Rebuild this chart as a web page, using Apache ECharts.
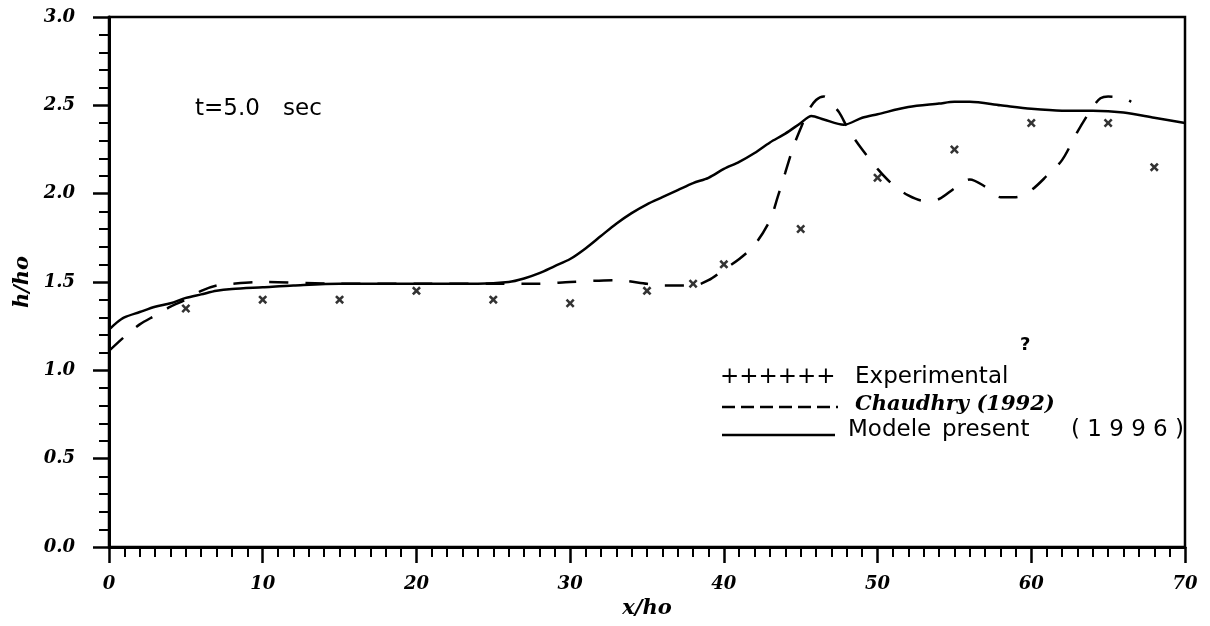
<!DOCTYPE html>
<html>
<head>
<meta charset="utf-8">
<script src="https://cdn.jsdelivr.net/npm/echarts@6/dist/echarts.min.js"></script>
<style>
  html, body { margin: 0; padding: 0; background: #fff; }
  #chart { width: 1210px; height: 626px; }
</style>
</head>
<body>
<div id="chart"></div>
<script>
// ---- Data ----
const expX = [5, 10, 15, 20, 25, 30, 35, 38, 40, 45, 50, 55, 60, 65, 68];
const expY = [1.35, 1.40, 1.40, 1.45, 1.40, 1.38, 1.45, 1.49, 1.60, 1.80, 2.09, 2.25, 2.40, 2.40, 2.15];

const chaudhryX = [0, 1, 2, 3, 4, 5, 6, 7, 8, 10, 15, 20, 25, 28, 30, 33, 35, 36, 37, 38, 39, 40, 41, 42, 43, 43.5, 44, 44.5, 45, 45.5, 46, 46.5, 47, 47.5, 48, 48.5, 49, 50, 51, 52, 53, 54, 55, 56, 57, 58, 59, 60, 61, 62, 63, 64, 64.5, 65, 66, 66.5];
const chaudhryY = [1.11, 1.19, 1.26, 1.31, 1.36, 1.40, 1.45, 1.48, 1.49, 1.50, 1.49, 1.49, 1.49, 1.49, 1.50, 1.51, 1.49, 1.48, 1.48, 1.48, 1.51, 1.57, 1.63, 1.71, 1.85, 1.98, 2.12, 2.26, 2.37, 2.47, 2.53, 2.55, 2.51, 2.46, 2.38, 2.31, 2.25, 2.14, 2.05, 1.99, 1.96, 1.97, 2.03, 2.08, 2.04, 1.98, 1.98, 2.02, 2.10, 2.19, 2.35, 2.49, 2.54, 2.55, 2.54, 2.52];

const modelX = [0, 0.5, 1, 2, 3, 4, 5, 6, 7, 8, 10, 12, 15, 20, 24, 26, 27, 28, 29, 30, 31, 32, 33, 34, 35, 36, 37, 38, 39, 40, 41, 42, 43, 44, 45, 45.7, 46.5, 47.8, 49, 50, 52, 54, 55, 56, 58, 60, 62, 64, 66, 68, 70];
const modelY = [1.23, 1.27, 1.30, 1.33, 1.36, 1.38, 1.41, 1.43, 1.45, 1.46, 1.47, 1.48, 1.49, 1.49, 1.49, 1.50, 1.52, 1.55, 1.59, 1.63, 1.69, 1.76, 1.83, 1.89, 1.94, 1.98, 2.02, 2.06, 2.09, 2.14, 2.18, 2.23, 2.29, 2.34, 2.40, 2.44, 2.42, 2.39, 2.43, 2.45, 2.49, 2.51, 2.52, 2.52, 2.50, 2.48, 2.47, 2.47, 2.46, 2.43, 2.40];

const xTicks = [0, 10, 20, 30, 40, 50, 60, 70];
const yTicks = ['0.0', '0.5', '1.0', '1.5', '2.0', '2.5', '3.0'];

const zip = (xs, ys) => xs.map((x, i) => [x, ys[i]]);

const serifLabel = {
  fontFamily: 'DejaVu Serif',
  fontStyle: 'italic',
  fontWeight: 'bold',
  color: '#000'
};

const crossPath = 'path://M0,2 L2,0 L5,3 L8,0 L10,2 L7,5 L10,8 L8,10 L5,7 L2,10 L0,8 L3,5 Z';

const chart = echarts.init(document.getElementById('chart'), null, { renderer: 'canvas' });

chart.setOption({
  backgroundColor: '#ffffff',
  animation: false,
  grid: {
    left: 109, right: 25, top: 17, bottom: 79,
    containLabel: false,
    outerBoundsMode: 'none',
    show: true, borderColor: '#000', borderWidth: 2.5, backgroundColor: 'transparent'
  },
  xAxis: {
    type: 'value',
    min: 0, max: 70, interval: 10,
    name: 'x/ho',
    nameLocation: 'middle',
    nameGap: 51,
    nameTextStyle: Object.assign({ fontSize: 21 }, serifLabel),
    axisLine: { show: true, onZero: false, lineStyle: { color: '#000', width: 3 } },
    axisTick: { show: true, inside: false, length: 16, lineStyle: { color: '#000', width: 2.5 } },
    minorTick: { show: true, splitNumber: 10, length: 10, lineStyle: { color: '#000', width: 2 } },
    splitLine: { show: false },
    axisLabel: Object.assign({ fontSize: 18, margin: 28, formatter: v => String(xTicks[Math.round(v / 10)]) }, serifLabel)
  },
  yAxis: {
    type: 'value',
    min: 0, max: 3, interval: 0.5,
    name: 'h/ho',
    nameLocation: 'middle',
    nameGap: 76,
    nameRotate: 90,
    nameTextStyle: Object.assign({ fontSize: 21 }, serifLabel),
    axisLine: { show: true, onZero: false, lineStyle: { color: '#000', width: 3 } },
    axisTick: { show: true, inside: false, length: 16, lineStyle: { color: '#000', width: 2.5 } },
    minorTick: { show: true, splitNumber: 5, length: 10, lineStyle: { color: '#000', width: 2 } },
    splitLine: { show: false },
    axisLabel: Object.assign({ fontSize: 18, margin: 34, formatter: v => yTicks[Math.round(v * 2)] }, serifLabel)
  },
  series: [
    {
      name: 'Modele present (1996)',
      type: 'line',
      data: zip(modelX, modelY),
      smooth: 0.3,
      showSymbol: false,
      lineStyle: { color: '#000', width: 2.5 },
      z: 3
    },
    {
      name: 'Chaudhry (1992)',
      type: 'line',
      data: zip(chaudhryX, chaudhryY),
      smooth: 0.3,
      showSymbol: false,
      lineStyle: { color: '#000', width: 2.5, type: [19, 17] },
      z: 3
    },
    {
      name: 'Experimental',
      type: 'scatter',
      data: zip(expX, expY),
      symbol: crossPath,
      symbolSize: 9,
      itemStyle: { color: '#000' },
      z: 4
    }
  ],
  graphic: [
    { type: 'text', left: 195, top: 98, style: { text: 't=5.0', font: '23px "DejaVu Sans"', fill: '#000' } },
    { type: 'text', left: 283, top: 98, style: { text: 'sec', font: '23px "DejaVu Sans"', fill: '#000' } },
    // legend
    { type: 'text', left: 720, top: 366, style: { text: '++++++', font: '23px "DejaVu Sans"', fill: '#000' } },
    { type: 'text', left: 855, top: 366, style: { text: 'Experimental', font: '23px "DejaVu Sans"', fill: '#000' } },
    { type: 'line', shape: { x1: 722, y1: 407, x2: 838, y2: 407 }, style: { stroke: '#000', lineWidth: 2.5, lineDash: [13, 6] } },
    { type: 'text', left: 855, top: 394, style: { text: 'Chaudhry (1992)', font: 'italic bold 21px "DejaVu Serif"', fill: '#000' } },
    { type: 'line', shape: { x1: 722, y1: 435, x2: 835, y2: 435 }, style: { stroke: '#000', lineWidth: 2.5 } },
    { type: 'text', left: 848, top: 419, style: { text: 'Modele', font: '23px "DejaVu Sans"', fill: '#000' } },
    { type: 'text', left: 942, top: 419, style: { text: 'present', font: '23px "DejaVu Sans"', fill: '#000' } },
    { type: 'text', left: 1071, top: 419, style: { text: '( 1 9 9 6 )', font: '23px "DejaVu Sans"', fill: '#000' } },
    { type: 'text', left: 1020, top: 336, style: { text: '?', font: 'bold 18px "DejaVu Sans"', fill: '#000' } }
  ]
});
</script>
</body>
</html>
